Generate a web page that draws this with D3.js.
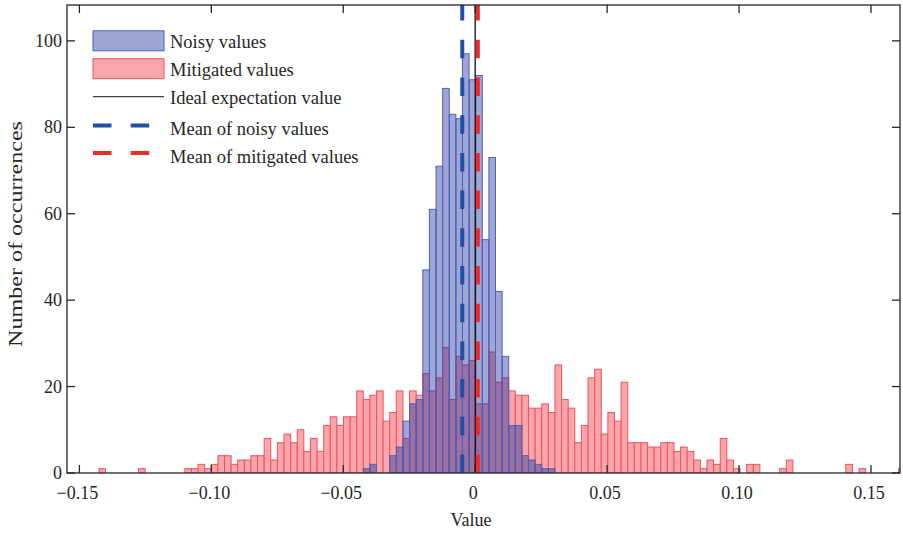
<!DOCTYPE html>
<html>
<head>
<meta charset="utf-8">
<script src="https://cdn.jsdelivr.net/npm/d3@7"></script>
<style>
  body { margin: 0; background: #fff; }
  svg text { font-family: "Liberation Serif", "Times New Roman", serif; fill: #262626; }
</style>
</head>
<body>
<div id="chart"></div>
<script>
// histogram bins: same edges for both series
const binStart = -0.1426;
const binWidth = 0.002505;

// mitigated counts, from the first bin
const mitigatedCounts = [
  1, 0, 0, 0, 0, 0, 1, 0, 0, 0, 0, 0, 0, 1, 1, 2,
  1, 2, 4, 4, 2, 3, 3, 4, 4, 8, 3, 7, 9, 7, 10, 5, 8, 5, 11, 13, 11,
  13, 13, 19, 17, 18, 19, 12, 14, 19, 8, 19, 18, 23, 19, 22, 29, 17, 27, 25, 26, 16,
  16, 28, 21, 22, 19, 18, 18, 15, 15, 16, 14, 25, 17, 15, 7, 11, 22, 24, 9, 14, 12, 21,
  7, 7, 7, 6, 6, 7, 7, 5, 6, 5, 3, 1, 3, 2, 8, 3, 1, 0, 2, 2,
  0, 0, 0, 1, 3, 0, 0, 0, 0, 0, 0, 0, 0, 2, 0, 1, 0, 0, 0, 0, 0, 1
];

// noisy counts, starting at bin 40
const noisyFirstBin = 40;
const noisyCounts = [
  1, 2, 0, 0, 4, 6, 12, 16, 17, 47, 61, 71, 89, 83, 82, 97, 91, 92,
  54, 73, 42, 27, 11, 11, 4, 3, 2, 1, 1
];

const xTicks = [-0.15, -0.10, -0.05, 0, 0.05, 0.10, 0.15];
const xTickLabels = ["\u22120.15", "\u22120.10", "\u22120.05", "0", "0.05", "0.10", "0.15"];
const yTicks = [0, 20, 40, 60, 80, 100];

const idealValue = 0;
const noisyMean = -0.0049;
const mitigatedMean = 0.0010;

const legendLabels = ["Noisy values", "Mitigated values", "Ideal expectation value",
  "Mean of noisy values", "Mean of mitigated values"];

const margin = { top: 5, right: 3, bottom: 61, left: 67 };
const W = 903, H = 534;
const width = W - margin.left - margin.right;
const height = H - margin.top - margin.bottom;

const blue = { fill: "rgb(18,33,148)", edge: "rgb(75,98,192)", line: "#1f4fa6" };
const red = { fill: "rgb(249,166,171)", edge: "rgb(240,82,94)", line: "#ee2b2b" };
const axisColor = "#262626";

const svg = d3.select("#chart").append("svg")
  .attr("width", W).attr("height", H);

const g = svg.append("g")
  .attr("transform", `translate(${margin.left},${margin.top})`);

const x = d3.scaleLinear().domain([-0.1547, 0.161]).range([0, width]);
const y = d3.scaleLinear().domain([0, 108.3]).range([height, 0]);

g.append("clipPath").attr("id", "clip")
  .append("rect").attr("width", width).attr("height", height);

const plot = g.append("g").attr("clip-path", "url(#clip)");

const mitigatedBins = mitigatedCounts.map((c, i) => ({ x0: binStart + i * binWidth, count: c }))
  .filter(d => d.count > 0);
const noisyBins = noisyCounts.map((c, i) => ({ x0: binStart + (noisyFirstBin + i) * binWidth, count: c }))
  .filter(d => d.count > 0);

plot.selectAll("rect.mit")
  .data(mitigatedBins)
  .enter().append("rect")
  .attr("class", "mit")
  .attr("x", d => x(d.x0))
  .attr("width", d => x(d.x0 + binWidth) - x(d.x0))
  .attr("y", d => y(d.count))
  .attr("height", d => y(0) - y(d.count))
  .attr("fill", red.fill)
  .attr("stroke", red.edge)
  .attr("stroke-width", 1);

plot.selectAll("rect.noisy")
  .data(noisyBins)
  .enter().append("rect")
  .attr("class", "noisy")
  .attr("x", d => x(d.x0))
  .attr("width", d => x(d.x0 + binWidth) - x(d.x0))
  .attr("y", d => y(d.count))
  .attr("height", d => y(0) - y(d.count))
  .attr("fill", blue.fill)
  .attr("fill-opacity", 0.4)
  .attr("stroke", blue.edge)
  .attr("stroke-width", 1);

// vertical reference lines
const dash = "18.5,19.2";
plot.append("line")
  .attr("x1", x(idealValue)).attr("x2", x(idealValue))
  .attr("y1", y(0)).attr("y2", 0)
  .attr("stroke", "#111").attr("stroke-width", 1.3);

[[noisyMean, blue.line], [mitigatedMean, red.line]].forEach(([v, c]) => {
  plot.append("line")
    .attr("x1", x(v)).attr("x2", x(v))
    .attr("y1", y(0)).attr("y2", 0)
    .attr("stroke", c).attr("stroke-width", 4)
    .attr("stroke-dasharray", dash);
});

// axes, box and inward ticks
const tickLen = 8;
g.append("rect")
  .attr("width", width).attr("height", height)
  .attr("fill", "none").attr("stroke", axisColor).attr("stroke-width", 1.3);

xTicks.forEach((t, i) => {
  const px = x(t);
  g.append("line").attr("x1", px).attr("x2", px).attr("y1", height).attr("y2", height - tickLen)
    .attr("stroke", axisColor).attr("stroke-width", 1.3);
  g.append("line").attr("x1", px).attr("x2", px).attr("y1", 0).attr("y2", tickLen)
    .attr("stroke", axisColor).attr("stroke-width", 1.3);
  g.append("text")
    .attr("x", px - 2).attr("y", height + 26)
    .attr("text-anchor", "middle")
    .style("font-size", "18px")
    .text(xTickLabels[i]);
});

yTicks.forEach(t => {
  const py = y(t);
  g.append("line").attr("x1", 0).attr("x2", tickLen).attr("y1", py).attr("y2", py)
    .attr("stroke", axisColor).attr("stroke-width", 1.3);
  g.append("line").attr("x1", width).attr("x2", width - tickLen).attr("y1", py).attr("y2", py)
    .attr("stroke", axisColor).attr("stroke-width", 1.3);
  g.append("text")
    .attr("x", -5).attr("y", py + 6)
    .attr("text-anchor", "end")
    .style("font-size", "18px")
    .text(t);
});

svg.append("text")
  .attr("x", 471).attr("y", 526)
  .attr("text-anchor", "middle")
  .style("font-size", "18px")
  .text("Value");

svg.append("text")
  .attr("transform", "translate(22,234) rotate(-90)")
  .attr("text-anchor", "middle")
  .attr("textLength", 226)
  .attr("lengthAdjust", "spacingAndGlyphs")
  .style("font-size", "18px")
  .text("Number of occurrences");

// legend
const leg = svg.append("g");
const symX = 93, symW = 71, textX = 170;
const symY = [40.8, 68.7, 96.7, 125.5, 153];
const textY = [41, 69.5, 97.7, 128.5, 156];

leg.append("rect").attr("x", symX).attr("y", symY[0] - 10).attr("width", symW).attr("height", 20)
  .attr("fill", blue.fill).attr("fill-opacity", 0.4).attr("stroke", blue.edge);
leg.append("rect").attr("x", symX).attr("y", symY[1] - 10).attr("width", symW).attr("height", 20)
  .attr("fill", red.fill).attr("stroke", red.edge);
leg.append("line").attr("x1", symX).attr("x2", symX + symW).attr("y1", symY[2]).attr("y2", symY[2])
  .attr("stroke", "#444").attr("stroke-width", 1.3);
leg.append("line").attr("x1", symX).attr("x2", symX + symW).attr("y1", symY[3]).attr("y2", symY[3])
  .attr("stroke", blue.line).attr("stroke-width", 4).attr("stroke-dasharray", dash);
leg.append("line").attr("x1", symX).attr("x2", symX + symW).attr("y1", symY[4]).attr("y2", symY[4])
  .attr("stroke", red.line).attr("stroke-width", 4).attr("stroke-dasharray", dash);

leg.selectAll("text.leg")
  .data(legendLabels)
  .enter().append("text")
  .attr("class", "leg")
  .attr("x", textX)
  .attr("y", (d, i) => textY[i] + 6.5)
  .style("font-size", "18.5px")
  .text(d => d);
</script>
</body>
</html>
